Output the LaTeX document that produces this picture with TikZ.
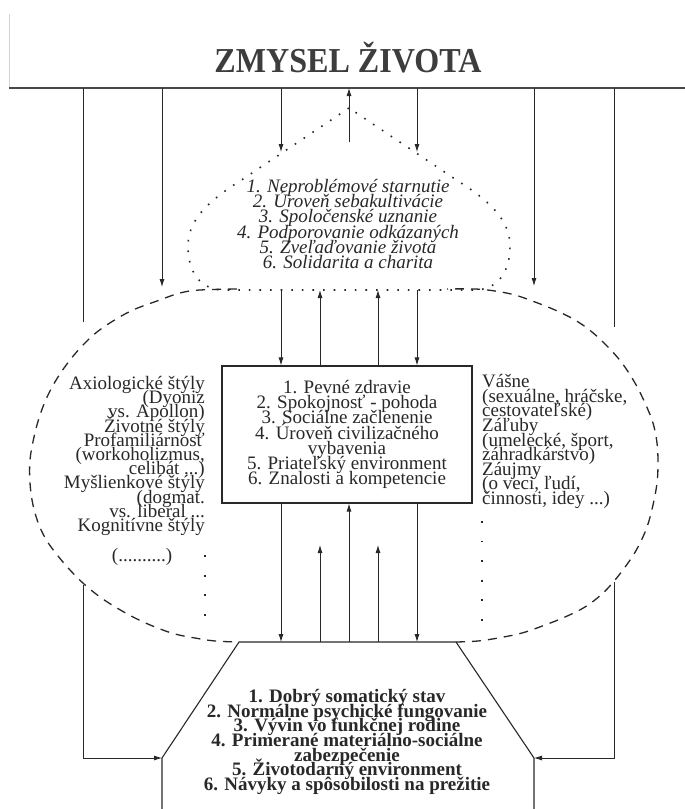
\documentclass[tikz,border=0pt]{standalone}
\usepackage{fontspec}
\setmainfont{Liberation Serif}
\usepackage{graphicx}
\usetikzlibrary{arrows.meta}
\definecolor{ink}{RGB}{40,40,40}
\begin{document}
\lineskiplimit=-100pt
\lineskip=0pt
\begin{tikzpicture}[x=1pt,y=-1pt,
  conn/.style={draw=ink, line width=0.8pt},
  arr/.style={conn, -{Latex[length=8pt,width=5pt]}},
  txt/.style={text=ink, font=\fontsize{19}{14.6}\selectfont, inner sep=0pt},
  dotline/.style={draw=ink, line width=1.6pt, dash pattern=on 1.6pt off 9pt},
  dashline/.style={draw=ink, line width=1.3pt, dash pattern=on 9pt off 7pt},
  vdots/.style={draw=ink, line width=1.8pt, dash pattern=on 1.8pt off 17.8pt}]
\fill[white] (0,0) rectangle (685,809);
\useasboundingbox (0,0) rectangle (685,809);

% title and top line
\node[anchor=base, inner sep=0pt, text=ink!90, font=\fontsize{35}{40}\selectfont\bfseries] (title) at (348,72) {\scalebox{0.917}[1]{ZMYSEL ŽIVOTA}};
\draw[gray!35, line width=0.6pt] (9,14) -- (9,88);
\draw[draw=ink!85, line width=1.5pt] (9,88) -- (685,88);
\foreach \n/\x in {a/83,b/162,c/281,d/349,e/417,f/534,g/614}{\coordinate (t\n) at (\x,88);}

% dotted onion shape
\draw[dotline] (349,108) -- (240,181) .. controls (205,203) and (188,222) .. (188,246) .. controls (188,272) and (200,289) .. (222,290) -- (476,290) .. controls (498,289) and (510,272) .. (510,246) .. controls (510,222) and (493,203) .. (458,181) -- cycle;
\node[txt, font=\fontsize{19}{15.2}\selectfont\itshape, align=center] (goals) at (348,224) {1. Neproblémové starnutie\\2. Úroveň sebakultivácie\\3. Spoločenské uznanie\\4. Podporovanie odkázaných\\5. Zveľaďovanie života\\6. Solidarita a charita};

% dashed ellipse
\draw[dashline] plot[smooth, tension=0.6] coordinates {(237,289) (200,290) (180,293) (157,301) (133,310) (113,321) (97,332) (83,345) (70,360) (58,377) (48,395) (40,415) (34,437) (30,460) (30,483) (33,505) (39,525) (47,541) (58,556) (70,570) (84,584) (100,597) (117,608) (135,618) (155,627) (175,634) (195,638) (215,641) (239,642)};
\draw[dashline] plot[smooth, tension=0.6] coordinates {(456,642) (478,641) (498,638) (522,633) (545,625) (565,617) (585,607) (602,594) (615,580) (628,563) (638,547) (647,527) (653,505) (657,483) (658,463) (657,443) (653,423) (645,403) (635,383) (622,363) (608,347) (592,332) (575,320) (555,310) (535,302) (515,295) (495,291) (475,289) (447,289)};

% central box
\node[txt, draw=ink, line width=1.1pt, minimum width=250pt, minimum height=137pt, align=center, font=\fontsize{19}{15.2}\selectfont] (core) at (347,434.5) {1. Pevné zdravie\\2. Spokojnosť - pohoda\\3. Sociálne začlenenie\\4. Úroveň civilizačného\\vybavenia\\5. Priateľský environment\\6. Znalosti a kompetencie};

% side texts
\node[txt, anchor=east, align=right, font=\fontsize{19}{14.2}\selectfont] (styles) at (205,456) {Axiologické štýly\\(Dyoniz\\vs. Apollon)\\Životné štýly\\Profamiliárnosť\\(workoholizmus,\\celibát ...)\\Myšlienkové štýly\\(dogmat.\\vs. liberal ...\\Kognitívne štýly};
\node[txt] (etc) at (142,557) {(..........)};
\node[txt, anchor=west, align=left] (hobbies) at (482,441.5) {Vášne\\(sexuálne, hráčske,\\cestovateľské)\\Záľuby\\(umelecké, šport,\\záhradkárstvo)\\Záujmy\\(o veci, ľudí,\\činnosti, idey ...)};
\draw[vdots] (205,555.1) -- (205,618);
\draw[vdots] (482,521) -- (482,625);

% trapezoid
\coordinate (tl) at (239,642); \coordinate (tr) at (456,642);
\coordinate (bl) at (162,758); \coordinate (br) at (534,758);
\draw[draw=ink, line width=1.1pt] (162,809) -- (bl) -- (tl) -- (tr) -- (br) -- (534,809);
\node[txt, align=center, font=\fontsize{19}{14.6}\selectfont\bfseries] (base) at (347,742) {1. Dobrý somatický stav\\2. Normálne psychické fungovanie\\3. Vývin vo funkčnej rodine\\4. Primerané materiálno-sociálne\\zabezpečenie\\5. Životodarný environment\\6. Návyky a spôsobilosti na prežitie};

% outer feedback lines
\coordinate (la) at (83,322); \coordinate (lb) at (83,585);
\coordinate (ra) at (614,327); \coordinate (rb) at (614,582);
\draw[conn] (ta) -- (la);
\draw[arr] (lb) -- (bl -| lb) -- (bl);
\draw[conn] (tg) -- (ra);
\draw[arr] (rb) -- (br -| rb) -- (br);

% arrows from title line
\coordinate (eb) at (162,287); \coordinate (ef) at (534,286);
\draw[arr] (tb) -- (eb);
\draw[arr] (tf) -- (ef);
\coordinate (gc) at (281,152); \coordinate (ge) at (417,152); \coordinate (gd) at (349,142);
\draw[arr] (tc) -- (gc);
\draw[arr] (te) -- (ge);
\draw[arr] (gd) -- (td);

% arrows between goals and core
\foreach \n/\x in {1/281,2/320,3/378,4/417}{\coordinate (g\n) at (\x,290);}
\draw[arr] (g1) -- (g1 |- core.north);
\draw[arr] (g2 |- core.north) -- (g2);
\draw[arr] (g3 |- core.north) -- (g3);
\draw[arr] (g4) -- (g4 |- core.north);

% arrows between core and base
\foreach \n/\x in {1/281,2/320,3/349,4/378,5/417}{\coordinate (b\n) at (\x,642);}
\coordinate (u2) at (320,545); \coordinate (u4) at (378,545);
\draw[arr] (b1 |- core.south) -- (b1);
\draw[arr] (b2) -- (u2);
\draw[arr] (b3) -- (b3 |- core.south);
\draw[arr] (b4) -- (u4);
\draw[arr] (b5 |- core.south) -- (b5);
\end{tikzpicture}
\end{document}
